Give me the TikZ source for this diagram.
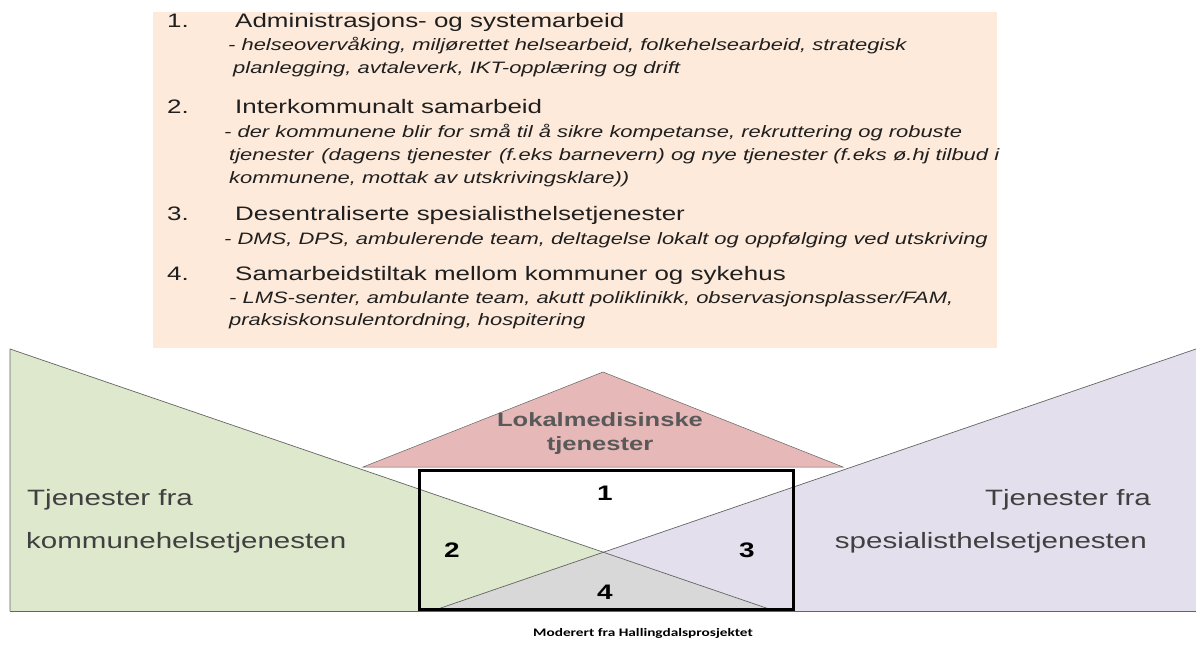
\documentclass[tikz,border=0pt]{standalone}
\usepackage{fontspec}
\setmainfont{Liberation Sans}[FakeStretch=1.33]
\newfontfamily\capfont{Carlito}[FakeStretch=1.33]
\definecolor{peach}{RGB}{253,234,218}
\definecolor{kgreen}{RGB}{222,232,204}
\definecolor{spurple}{RGB}{228,223,236}
\definecolor{overlap}{RGB}{216,216,216}
\definecolor{roof}{RGB}{230,184,183}
\definecolor{edge}{RGB}{100,100,100}
\definecolor{labelgray}{RGB}{64,64,64}
\definecolor{rooftext}{RGB}{89,89,89}
\begin{document}
\begin{tikzpicture}[x=1pt,y=-1pt,
  num/.style={anchor=base west,inner sep=0pt,font=\fontsize{19.5}{19.5}\selectfont,text=black!88},
  head/.style={anchor=base west,inner sep=0pt,font=\fontsize{19.5}{19.5}\selectfont,text=black!88},
  sub/.style={anchor=base west,inner sep=0pt,font=\itshape\fontsize{16.5}{16.5}\selectfont,text=black!88},
  side/.style={inner sep=0pt,font=\fontsize{22.2}{22.2}\selectfont,text=labelgray},
  zone/.style={inner sep=0pt,font=\bfseries\fontsize{21}{21}\selectfont,text=black},
  rooflabel/.style={inner sep=0pt,anchor=base,font=\bfseries\fontsize{19.2}{19.2}\selectfont,text=rooftext},
  thin/.style={draw=edge,line width=0.7pt}
]
\useasboundingbox (0,0) rectangle (1196,648);
% text panel
\fill[peach] (153,12) rectangle (997,348);
\node[num] (n1) at (167,27) {1.};
\node[head] (h1) at (235,27) {Administrasjons- og systemarbeid};
\node[sub] (s1a) at (228,50) {- helseovervåking, miljørettet helsearbeid, folkehelsearbeid, strategisk};
\node[sub] (s1b) at (233,73) {planlegging, avtaleverk, IKT-opplæring og drift};
\node[num] (n2) at (167,113) {2.};
\node[head] (h2) at (235,113) {Interkommunalt samarbeid};
\node[sub] (s2a) at (224,137) {- der kommunene blir for små til å sikre kompetanse, rekruttering og robuste};
\node[sub] (s2b) at (229,160) {tjenester\hspace{2pt} (dagens tjenester\hspace{2pt} (f.eks barnevern) og nye tjenester (f.eks ø.hj tilbud i};
\node[sub] (s2c) at (229,183) {kommunene, mottak av utskrivingsklare))};
\node[num] (n3) at (167,220) {3.};
\node[head] (h3) at (235,220) {Desentraliserte spesialisthelsetjenester};
\node[sub] (s3a) at (224,244) {- DMS, DPS, ambulerende team, deltagelse lokalt og oppfølging ved utskriving};
\node[num] (n4) at (167,280) {4.};
\node[head] (h4) at (235,280) {Samarbeidstiltak mellom kommuner og sykehus};
\node[sub] (s4a) at (229,303) {- LMS-senter, ambulante team, akutt poliklinikk, observasjonsplasser/FAM,};
\node[sub] (s4b) at (229,325) {praksiskonsulentordning, hospitering};
% triangles
\fill[kgreen] (10,349) -- (10,611) -- (775,611) -- cycle;
\fill[spurple] (1196,349) -- (1196,611) -- (432,611) -- cycle;
\fill[overlap] (432,611) -- (603.4,552.2) -- (775,611) -- cycle;
\draw[thin] (10,611) -- (10,349) -- (775,611);
\draw[thin] (1196,349) -- (432,611);
\draw[thin] (10,611) -- (1196,611);
% roof
\filldraw[fill=roof,draw=edge,line width=0.5pt] (363,467) -- (603,372) -- (843,467) -- cycle;
\node[rooflabel] (roofa) at (600,426) {Lokalmedisinske};
\node[rooflabel] (roofb) at (600,450) {tjenester};
% box
\draw[black,line width=3pt] (419,470) rectangle (793,609);
\node[zone] (z1) at (605,493) {1};
\node[zone] (z2) at (452,550) {2};
\node[zone] (z3) at (747,550) {3};
\node[zone] (z4) at (605,592) {4};
% side labels
\node[side,anchor=base west] (l1) at (27,505) {Tjenester fra};
\node[side,anchor=base west] (l2) at (26,548) {kommunehelsetjenesten};
\node[side,anchor=base east] (r1) at (1151,505) {Tjenester fra};
\node[side,anchor=base east] (r2) at (1147,548) {spesialisthelsetjenesten};
% caption
\node[font=\capfont\bfseries\fontsize{11.5}{11.5}\selectfont,anchor=base west,inner sep=0pt] (cap) at (533,636) {Moderert fra Hallingdalsprosjektet};
\end{tikzpicture}
\end{document}
